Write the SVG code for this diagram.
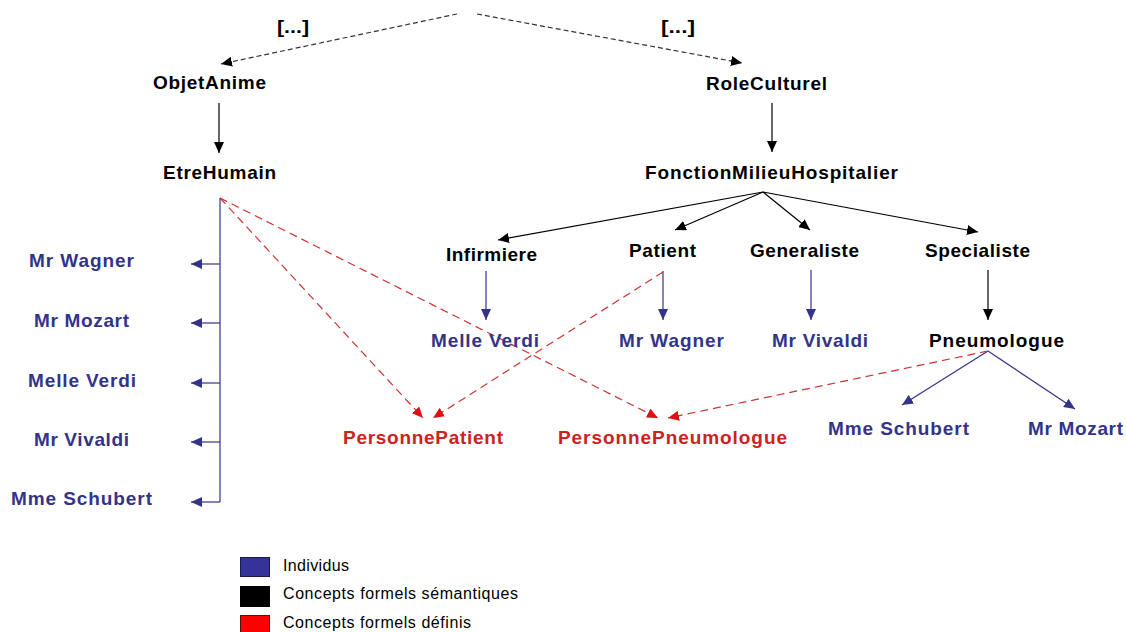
<svg xmlns="http://www.w3.org/2000/svg" width="1126" height="632" viewBox="0 0 1126 632">
<style>
text{font-family:"Liberation Sans",Arial,sans-serif;font-weight:bold;font-size:19px;}
.k{fill:#000;}
.b{fill:#33338a;}
.r{fill:#cc2222;}
.lg{font-weight:normal;font-size:16px;fill:#000;}
.ck{stroke:#000;stroke-width:1.2;fill:none;}
.cd{stroke:#333;stroke-width:1.2;fill:none;stroke-dasharray:5 3;}
.cb{stroke:#33338a;stroke-width:1.2;fill:none;}
.cr{stroke:#cc3333;stroke-width:1.2;fill:none;stroke-dasharray:8 5;}
</style>
<defs>
<marker id="ak" markerUnits="userSpaceOnUse" markerWidth="12" markerHeight="10" refX="11" refY="5" orient="auto"><path d="M0,0 L11,5 L0,10 z" fill="#000"/></marker>
<marker id="ab" markerUnits="userSpaceOnUse" markerWidth="12" markerHeight="10" refX="11" refY="5" orient="auto"><path d="M0,0 L11,5 L0,10 z" fill="#33338a"/></marker>
<marker id="ar" markerUnits="userSpaceOnUse" markerWidth="12" markerHeight="10" refX="11" refY="5" orient="auto"><path d="M0,0 L11,5 L0,10 z" fill="#dd1111"/></marker>
</defs>
<rect width="1126" height="632" fill="#fff"/>
<g id="connectors">
<line class="cd" x1="457" y1="14" x2="221" y2="64" marker-end="url(#ak)"/>
<line class="cd" x1="477" y1="14" x2="742" y2="63" marker-end="url(#ak)"/>
<line class="ck" x1="219" y1="103" x2="219" y2="153" marker-end="url(#ak)"/>
<line class="ck" x1="772" y1="103" x2="772" y2="152" marker-end="url(#ak)"/>
<line class="ck" x1="763" y1="192" x2="498" y2="240" marker-end="url(#ak)"/>
<line class="ck" x1="763" y1="192" x2="675" y2="230" marker-end="url(#ak)"/>
<line class="ck" x1="763" y1="192" x2="810" y2="230" marker-end="url(#ak)"/>
<line class="ck" x1="763" y1="192" x2="978" y2="232" marker-end="url(#ak)"/>
<line class="cb" x1="486" y1="271" x2="486" y2="320" marker-end="url(#ab)"/>
<line class="cb" x1="663" y1="271" x2="663" y2="320" marker-end="url(#ab)"/>
<line class="cb" x1="811" y1="270" x2="811" y2="320" marker-end="url(#ab)"/>
<line class="ck" x1="988" y1="270" x2="988" y2="320" marker-end="url(#ak)"/>
<line class="cb" x1="988" y1="351" x2="902" y2="405" marker-end="url(#ab)"/>
<line class="cb" x1="988" y1="351" x2="1075" y2="409" marker-end="url(#ab)"/>
<line class="cb" x1="220" y1="198" x2="220" y2="502"/>
<line class="cb" x1="220" y1="264" x2="191" y2="264" marker-end="url(#ab)"/>
<line class="cb" x1="220" y1="323" x2="191" y2="323" marker-end="url(#ab)"/>
<line class="cb" x1="220" y1="383" x2="191" y2="383" marker-end="url(#ab)"/>
<line class="cb" x1="220" y1="442" x2="191" y2="442" marker-end="url(#ab)"/>
<line class="cb" x1="220" y1="502" x2="191" y2="502" marker-end="url(#ab)"/>
<line class="cr" x1="220" y1="198" x2="423" y2="418" marker-end="url(#ar)"/>
<line class="cr" x1="220" y1="198" x2="658" y2="418" marker-end="url(#ar)"/>
<line class="cr" x1="663" y1="272" x2="433" y2="418" marker-end="url(#ar)"/>
<line class="cr" x1="988" y1="351" x2="668" y2="418" marker-end="url(#ar)"/>
</g>
<g id="dots-left"><text class="k" x="277" y="33" textLength="32" lengthAdjust="spacingAndGlyphs">[...]</text></g>
<g id="dots-right"><text class="k" x="661" y="33" textLength="34" lengthAdjust="spacingAndGlyphs">[...]</text></g>
<g id="ObjetAnime"><text class="k" x="153" y="89" textLength="113">ObjetAnime</text></g>
<g id="RoleCulturel"><text class="k" x="706" y="90" textLength="121">RoleCulturel</text></g>
<g id="EtreHumain"><text class="k" x="163" y="179" textLength="113">EtreHumain</text></g>
<g id="FonctionMilieuHospitalier"><text class="k" x="645" y="179" textLength="253">FonctionMilieuHospitalier</text></g>
<g id="Infirmiere"><text class="k" x="446" y="261" textLength="91">Infirmiere</text></g>
<g id="Patient"><text class="k" x="629" y="257" textLength="67">Patient</text></g>
<g id="Generaliste"><text class="k" x="750" y="257" textLength="109">Generaliste</text></g>
<g id="Specialiste"><text class="k" x="925" y="257" textLength="105">Specialiste</text></g>
<g id="Pneumologue"><text class="k" x="929" y="347" textLength="135">Pneumologue</text></g>
<g id="ind-MelleVerdi-r"><text class="b" x="431" y="347" textLength="108">Melle Verdi</text></g>
<g id="ind-MrWagner-r"><text class="b" x="619" y="347" textLength="105">Mr Wagner</text></g>
<g id="ind-MrVivaldi-r"><text class="b" x="772" y="347" textLength="96">Mr Vivaldi</text></g>
<g id="ind-MmeSchubert-r"><text class="b" x="828" y="435" textLength="141">Mme Schubert</text></g>
<g id="ind-MrMozart-r"><text class="b" x="1028" y="435" textLength="95">Mr Mozart</text></g>
<g id="PersonnePatient"><text class="r" x="343" y="444" textLength="160">PersonnePatient</text></g>
<g id="PersonnePneumologue"><text class="r" x="558" y="444" textLength="229">PersonnePneumologue</text></g>
<g id="ind-MrWagner-l"><text class="b" x="29" y="267" textLength="105">Mr Wagner</text></g>
<g id="ind-MrMozart-l"><text class="b" x="34" y="327" textLength="95">Mr Mozart</text></g>
<g id="ind-MelleVerdi-l"><text class="b" x="28" y="387" textLength="108">Melle Verdi</text></g>
<g id="ind-MrVivaldi-l"><text class="b" x="34" y="446" textLength="95">Mr Vivaldi</text></g>
<g id="ind-MmeSchubert-l"><text class="b" x="11" y="505" textLength="141">Mme Schubert</text></g>
<g id="legend">
<rect x="240.5" y="557.5" width="29" height="19" fill="#333399" stroke="#1a1a4a"/>
<rect x="240.5" y="586.5" width="29" height="20" fill="#000" stroke="#000"/>
<rect x="240.5" y="615.5" width="29" height="20" fill="#ff0000" stroke="#551111"/>
<text class="lg" x="283" y="571" textLength="66">Individus</text>
<text class="lg" x="283" y="599" textLength="235">Concepts formels sémantiques</text>
<text class="lg" x="283" y="628" textLength="188">Concepts formels définis</text>
</g>
</svg>
